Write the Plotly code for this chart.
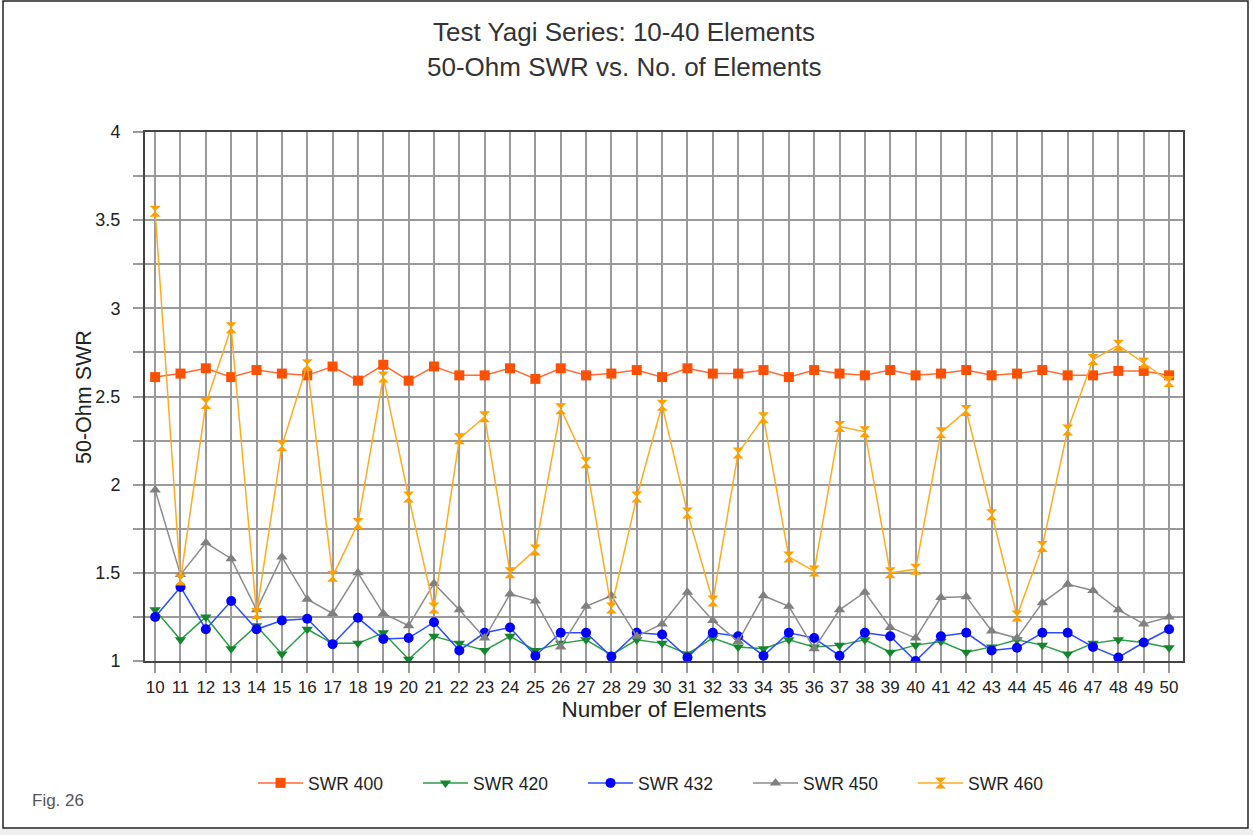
import plotly.graph_objects as go

elements = list(range(10, 51))

swr400 = [2.61, 2.63, 2.66, 2.61, 2.65, 2.63, 2.62, 2.67, 2.59, 2.68, 2.59, 2.67, 2.62, 2.62,
          2.66, 2.60, 2.66, 2.62, 2.63, 2.65, 2.61, 2.66, 2.63, 2.63, 2.65, 2.61, 2.65, 2.63,
          2.62, 2.65, 2.62, 2.63, 2.65, 2.62, 2.63, 2.65, 2.62, 2.62, 2.645, 2.645, 2.62]
swr420 = [1.29, 1.12, 1.25, 1.07, 1.20, 1.04, 1.18, 1.10, 1.10, 1.16, 1.01, 1.14, 1.10, 1.06,
          1.14, 1.06, 1.10, 1.12, 1.035, 1.12, 1.10, 1.04, 1.13, 1.08, 1.07, 1.12, 1.08, 1.09,
          1.12, 1.05, 1.09, 1.11, 1.05, 1.08, 1.12, 1.09, 1.04, 1.10, 1.12, 1.105, 1.075]
swr432 = [1.25, 1.42, 1.18, 1.34, 1.18, 1.23, 1.24, 1.095, 1.245, 1.125, 1.13, 1.22, 1.06, 1.16,
          1.19, 1.03, 1.16, 1.16, 1.025, 1.16, 1.15, 1.02, 1.16, 1.14, 1.03, 1.16, 1.13, 1.03,
          1.16, 1.14, 1.00, 1.14, 1.16, 1.06, 1.075, 1.16, 1.16, 1.08, 1.02, 1.105, 1.18]
swr450 = [1.97, 1.49, 1.67, 1.58, 1.29, 1.59, 1.35, 1.27, 1.50, 1.27, 1.20, 1.44, 1.29, 1.13,
          1.38, 1.34, 1.08, 1.31, 1.37, 1.14, 1.21, 1.39, 1.23, 1.11, 1.37, 1.31, 1.07, 1.29,
          1.39, 1.19, 1.13, 1.36, 1.365, 1.17, 1.13, 1.33, 1.435, 1.40, 1.29, 1.21, 1.25]
swr460 = [3.55, 1.46, 2.46, 2.89, 1.27, 2.22, 2.68, 1.48, 1.78, 2.61, 1.93, 1.30, 2.26, 2.385,
          1.50, 1.63, 2.43, 2.125, 1.30, 1.93, 2.45, 1.84, 1.34, 2.18, 2.38, 1.59, 1.51, 2.33,
          2.30, 1.50, 1.52, 2.295, 2.42, 1.83, 1.255, 1.65, 2.31, 2.71, 2.79, 2.69, 2.585]

series_names = ["SWR 400", "SWR 420", "SWR 432", "SWR 450", "SWR 460"]
series_values = [swr400, swr420, swr432, swr450, swr460]

title_lines = ["Test Yagi Series: 10-40 Elements", "50-Ohm SWR vs. No. of Elements"]
y_tick_vals = [1, 1.25, 1.5, 1.75, 2, 2.25, 2.5, 2.75, 3, 3.25, 3.5, 3.75, 4]
y_tick_text = ["1", "", "1.5", "", "2", "", "2.5", "", "3", "", "3.5", "", "4"]

styles = [
    ("#FF6A35", "#FF4F00", "square", 10),
    ("#2A9D45", "#12872C", "triangle-down", 10),
    ("#2B4BFF", "#0000FF", "circle", 10),
    ("#8C8C8C", "#808080", "triangle-up", 10),
    ("#FFAA22", "#FFA000", "hourglass", 11),
]

fig = go.Figure()
for name, vals, (lc, mc, sym, sz) in zip(series_names, series_values, styles):
    fig.add_trace(go.Scatter(
        x=elements, y=vals, name=name, mode="lines+markers",
        line=dict(color=lc, width=1.5),
        marker=dict(symbol=sym, size=sz, color=mc, line=dict(width=0)),
    ))

font_family = "Liberation Sans, Arial, sans-serif"

# plot area in px: x 145..1183, y 132..661
PL, PR, PT, PB = 145, 1183, 132, 661
PW, PH = PR - PL, PB - PT
def px_x(px):
    return (px - PL) / PW
def px_y(py):
    return (PB - py) / PH

fig.update_layout(
    width=1253, height=835,
    paper_bgcolor="white", plot_bgcolor="white",
    margin=dict(l=PL, r=1253 - PR, t=PT, b=835 - PB, autoexpand=False),
    font=dict(family=font_family, size=17, color="#222"),
    xaxis=dict(range=[9.6, 50.55], tickmode="array", tickvals=elements,
               ticktext=[str(e) for e in elements],
               showgrid=True, gridcolor="#9A9A9A", gridwidth=2,
               showline=True, linecolor="#444", linewidth=2, mirror=True,
               ticks="outside", ticklen=10, tickcolor="#9A9A9A", tickwidth=2,
               zeroline=False,
               title=dict(text="Number of Elements", standoff=2, font=dict(size=22.5)),
               tickfont=dict(size=17, color="#222")),
    yaxis=dict(range=[1, 4], tickmode="array", tickvals=y_tick_vals, ticktext=y_tick_text,
               showgrid=True, gridcolor="#9A9A9A", gridwidth=2,
               showline=True, linecolor="#444", linewidth=2, mirror=True,
               ticks="outside", ticklen=10, tickcolor="#9A9A9A", tickwidth=2,
               ticklabelstandoff=9,
               zeroline=False,
               tickfont=dict(size=18, color="#222")),
    legend=dict(orientation="h", x=px_x(253), xanchor="left",
                y=px_y(783), yanchor="middle",
                font=dict(size=17.5, color="#222"), bgcolor="rgba(0,0,0,0)",
                itemwidth=45, entrywidth=105, entrywidthmode="pixels"),
    showlegend=True,
)

for txt, cy in zip(title_lines, [32, 67]):
    fig.add_annotation(text=txt, xref="paper", yref="paper", x=px_x(624), y=px_y(cy),
                       xanchor="center", yanchor="middle", showarrow=False,
                       font=dict(size=26, color="#333"))

# y-axis title
fig.add_annotation(text="50-Ohm SWR", xref="paper", yref="paper", x=px_x(84), y=px_y(397),
                   xanchor="center", yanchor="middle", textangle=-90, showarrow=False,
                   font=dict(size=21.5, color="#222"))

# outer border and bottom strip
fig.add_shape(type="rect", xref="paper", yref="paper",
              x0=px_x(3), x1=px_x(1248), y0=px_y(828), y1=px_y(1),
              line=dict(color="#222", width=1.5), layer="below")
fig.add_shape(type="rect", xref="paper", yref="paper",
              x0=px_x(0), x1=px_x(1253), y0=px_y(835), y1=px_y(829),
              line=dict(width=0), fillcolor="#EFEFEF", layer="below")

fig.add_annotation(text="Fig. 26", xref="paper", yref="paper",
                   x=px_x(30), y=px_y(800), xanchor="left", yanchor="middle",
                   showarrow=False, font=dict(size=17, color="#555"))

fig.write_html("out.html", config={"displayModeBar": False},
               post_script="document.body.style.margin='0';")
